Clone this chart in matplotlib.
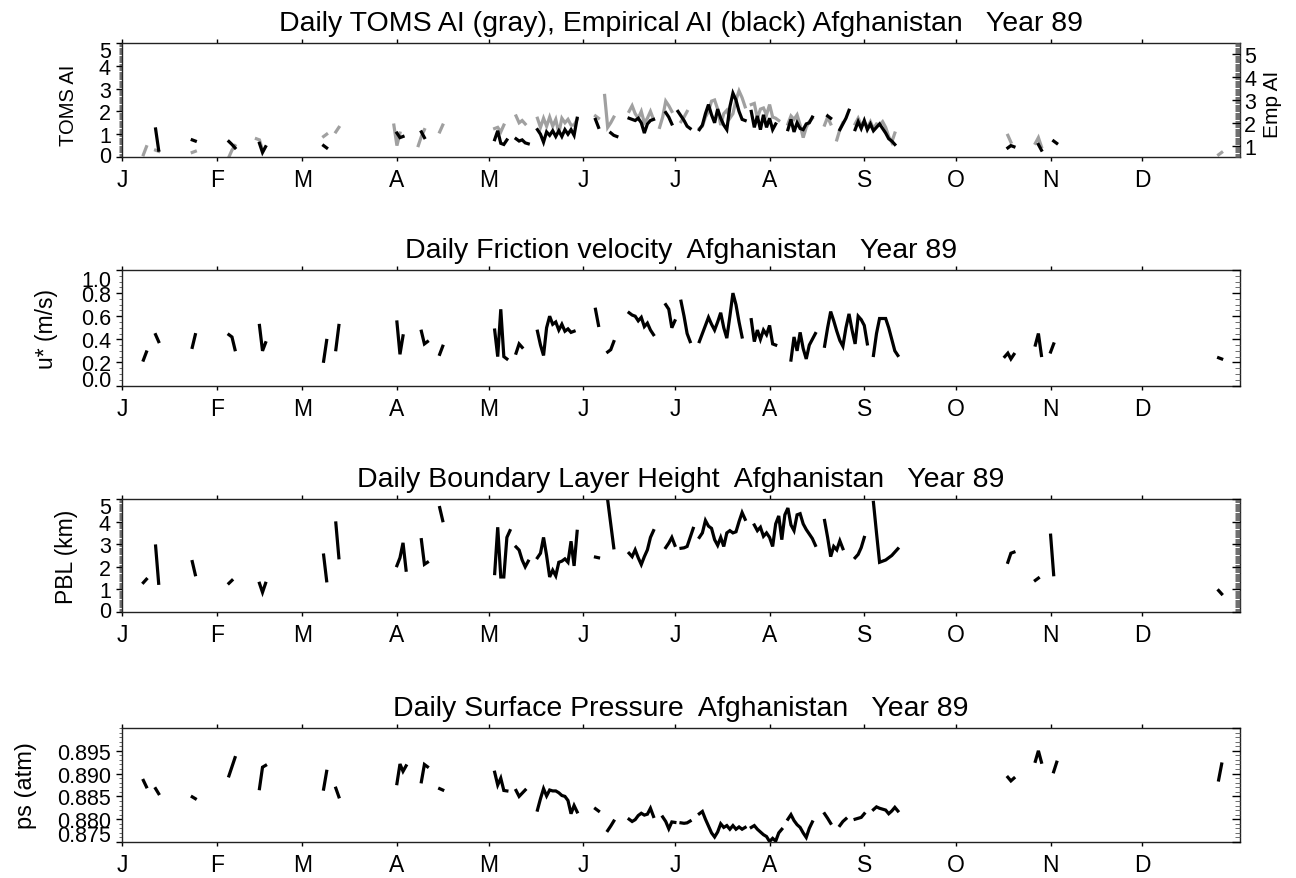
import numpy as np
import matplotlib
matplotlib.use('Agg')
import matplotlib.pyplot as plt
import matplotlib.transforms as mtransforms
from matplotlib.ticker import FixedLocator, MultipleLocator, FormatStrFormatter

plt.rcParams['font.family'] = ['Liberation Sans', 'DejaVu Sans']

NDAYS = 366
month_starts = [0, 31, 59, 90, 120, 151, 181, 212, 243, 273, 304, 334]
month_labels = ['J', 'F', 'M', 'A', 'M', 'J', 'J', 'A', 'S', 'O', 'N', 'D']

# each series is a list of (first day of year, consecutive daily values)
toms_ai = [
    (7, [0.1, 0.45]),
    (11, [0.3, 0.25]),
    (23, [0.2, 0.25]),
    (35, [0.0, 0.3, 0.5]),
    (44, [0.8, 0.75, 0.3]),
    (66, [0.9, 1.0]),
    (70, [1.1, 1.3]),
    (89, [1.4, 0.5, 1.05]),
    (97, [0.5, 0.9, 1.2]),
    (104, [1.1, 1.4]),
    (122, [1.25, 1.3, 1.1, 1.4]),
    (129, [1.8, 1.5, 1.6, 1.45]),
    (136, [1.7, 1.3, 1.7, 1.35, 1.75, 1.35, 1.65, 1.05, 1.7, 1.5, 1.65, 1.4, 1.4, 1.65]),
    (155, [1.8, 1.7]),
    (158, [2.7, 1.3, 1.5, 1.75]),
    (166, [2.0, 2.25, 1.9, 1.7, 2.0, 1.5, 1.7, 2.0, 1.65]),
    (176, [1.3, 1.75, 2.45, 2.25, 2.0]),
    (183, [1.55, 1.75, 2.0]),
    (189, [1.25, 1.35, 1.75, 2.0, 2.45, 2.5, 2.1, 1.4, 1.9, 2.05, 1.7, 1.9, 2.5, 2.9, 2.6, 2.2]),
    (206, [2.3, 2.35, 1.7, 2.1, 2.15, 1.85, 2.3, 1.75, 1.7, 1.6]),
    (218, [1.45, 1.8, 1.65, 1.85, 1.4, 0.85, 1.3, 1.55, 1.7]),
    (230, [1.4, 1.75, 1.45]),
    (234, [0.75, 1.2, 1.5]),
    (240, [1.45, 1.7, 1.4, 1.55, 1.3, 1.55, 1.25, 1.45, 1.4, 1.55, 1.3, 0.9, 0.65, 1.05]),
    (290, [0.95, 0.65]),
    (299, [0.6, 0.85, 0.45]),
    (359, [0.1, 0.2]),
]

emp_ai = [
    (11, [1.73, 0.8]),
    (23, [1.25, 1.2]),
    (35, [1.18, 1.05, 0.9]),
    (45, [1.1, 0.7, 0.95]),
    (66, [1.0, 0.9]),
    (90, [1.55, 1.35, 1.4]),
    (98, [1.6, 1.35]),
    (122, [1.26, 1.65, 1.1, 1.05, 1.25]),
    (129, [1.3, 1.2, 1.25, 1.12, 1.08]),
    (136, [1.7, 1.5, 1.15, 1.6, 1.45, 1.65, 1.4, 1.65, 1.4, 1.7, 1.5, 1.7, 1.45, 2.2]),
    (155, [2.15, 1.8]),
    (160, [1.56, 1.45, 1.4]),
    (166, [2.2, 2.15, 2.1, 2.2, 2.0, 1.55, 1.95, 2.1, 2.15]),
    (178, [2.45, 2.25, 1.95]),
    (182, [2.5, 2.3, 2.1, 1.85, 1.75]),
    (189, [1.7, 1.9, 2.4, 2.8, 2.35, 2.0, 2.6, 2.2, 1.9, 1.7, 2.7, 3.3, 3.0, 2.5, 2.15, 2.1]),
    (206, [2.5, 1.8, 2.3, 1.7, 2.35, 1.8, 2.2, 1.7, 1.95]),
    (218, [1.7, 2.15, 1.6, 2.0, 1.75, 1.7, 1.95, 2.0, 2.25]),
    (231, [2.3, 2.2]),
    (235, [1.7, 1.95, 2.2, 2.55]),
    (240, [1.7, 2.05, 1.75, 2.1, 1.7, 1.95]),
    (246, [1.65, 1.8, 1.95, 1.75, 1.55, 1.3, 1.2, 1.05]),
    (290, [0.9, 1.0, 0.95]),
    (300, [1.05, 0.8]),
    (305, [1.2, 1.1]),
]

ustar = [
    (7, [0.22, 0.29]),
    (11, [0.44, 0.38]),
    (23, [0.33, 0.44]),
    (35, [0.44, 0.42, 0.31]),
    (45, [0.52, 0.30, 0.37]),
    (66, [0.21, 0.39]),
    (70, [0.31, 0.52]),
    (90, [0.55, 0.27, 0.43]),
    (98, [0.47, 0.36, 0.38]),
    (104, [0.27, 0.34]),
    (122, [0.48, 0.25, 0.66, 0.25, 0.23]),
    (129, [0.28, 0.36, 0.33]),
    (136, [0.47, 0.35, 0.26, 0.5, 0.6, 0.53, 0.55, 0.48, 0.53, 0.47, 0.49, 0.46, 0.47]),
    (155, [0.66, 0.52]),
    (159, [0.29, 0.31, 0.38]),
    (166, [0.63, 0.61, 0.6, 0.56, 0.59, 0.51, 0.54, 0.48, 0.44]),
    (178, [0.70, 0.66, 0.5, 0.56]),
    (183, [0.73, 0.6, 0.45, 0.38]),
    (189, [0.38, 0.45, 0.52, 0.59, 0.53, 0.48, 0.55, 0.63, 0.5, 0.41, 0.6, 0.8, 0.7, 0.55, 0.42]),
    (206, [0.57, 0.38, 0.48, 0.4, 0.48, 0.44, 0.52, 0.36, 0.35]),
    (219, [0.22, 0.42, 0.3, 0.46, 0.32, 0.23, 0.35, 0.4, 0.45]),
    (230, [0.34, 0.5, 0.64, 0.56, 0.47, 0.39, 0.34, 0.5, 0.62, 0.48, 0.36, 0.6, 0.57, 0.52, 0.36]),
    (246, [0.26, 0.45, 0.58, 0.58, 0.58, 0.5, 0.4, 0.3, 0.26]),
    (289, [0.25, 0.28, 0.23, 0.27]),
    (299, [0.35, 0.45, 0.26]),
    (304, [0.29, 0.36]),
    (359, [0.24, 0.23]),
]

pbl = [
    (7, [1.3, 1.45]),
    (11, [2.92, 1.27]),
    (23, [2.23, 1.65]),
    (35, [1.27, 1.4]),
    (45, [1.27, 0.87, 1.27]),
    (66, [2.52, 1.38]),
    (70, [3.94, 2.4]),
    (90, [2.05, 2.4, 3.06, 1.85]),
    (98, [3.2, 2.11, 2.2]),
    (104, [4.62, 4.04]),
    (122, [1.7, 3.75, 1.55, 1.55, 3.3, 3.6]),
    (129, [2.88, 2.74, 2.3, 2.0, 2.25]),
    (136, [2.4, 2.6, 3.3, 2.5, 1.55, 1.85, 1.6, 2.2, 2.25, 2.35, 2.2, 3.13, 2.04, 3.57]),
    (155, [2.43, 2.4]),
    (159, [4.95, 3.9, 2.84]),
    (166, [2.6, 2.45, 2.75, 2.4, 2.1, 2.45, 2.75, 3.3, 3.6]),
    (178, [2.85, 3.05, 3.3, 2.95]),
    (183, [2.82, 2.84, 2.9, 3.3, 3.7]),
    (189, [3.3, 3.5, 4.05, 3.8, 3.7, 3.2, 2.95, 3.3, 2.9, 3.5, 3.6, 3.5, 3.55, 4.0, 4.4, 4.1]),
    (207, [3.85, 3.6, 3.75, 3.35, 3.5, 3.3, 2.9, 3.9, 4.25, 3.2, 4.3, 4.6, 3.85, 3.6, 4.3,
           4.35, 3.9, 3.65, 3.45, 3.25, 2.95]),
    (230, [4.05, 3.3, 2.45, 2.9, 2.75, 3.15, 2.8]),
    (240, [2.4, 2.55, 2.85, 3.3]),
    (246, [4.85, 3.5, 2.2, 2.25, 2.3, 2.4, 2.5, 2.65, 2.8]),
    (290, [2.2, 2.6, 2.65]),
    (299, [1.4, 1.5]),
    (304, [3.4, 1.65]),
    (359, [0.95, 0.8]),
]

ps = [
    (7, [0.8885, 0.8871]),
    (11, [0.8867, 0.8856]),
    (23, [0.8849, 0.8845]),
    (35, [0.8895, 0.8915, 0.8935]),
    (45, [0.8867, 0.8914, 0.8918]),
    (66, [0.8866, 0.8905]),
    (70, [0.8868, 0.8849]),
    (90, [0.8878, 0.8921, 0.8905, 0.8917]),
    (98, [0.8882, 0.8920, 0.8915]),
    (104, [0.8867, 0.8864]),
    (122, [0.8903, 0.8875, 0.8890, 0.8863, 0.8862]),
    (129, [0.8863, 0.8850, 0.8857, 0.8864]),
    (136, [0.8820, 0.8845, 0.8867, 0.8851, 0.8864, 0.8862, 0.8862, 0.8858, 0.8852, 0.8850,
           0.8841, 0.8812, 0.8830, 0.8816]),
    (155, [0.8823, 0.8818]),
    (159, [0.8775, 0.8785, 0.8796]),
    (166, [0.8800, 0.8795, 0.8799, 0.8808, 0.8813, 0.8809, 0.8811, 0.8824, 0.8806]),
    (177, [0.8805, 0.8795, 0.8779, 0.8794, 0.8793]),
    (183, [0.8792, 0.8791, 0.8792, 0.8796]),
    (189, [0.8812, 0.8817, 0.8800, 0.8785, 0.8770, 0.8761, 0.8772, 0.8790, 0.8782, 0.8786,
           0.8778, 0.8786, 0.8778, 0.8783, 0.8778, 0.8782]),
    (206, [0.8782, 0.8786, 0.8778, 0.8772, 0.8766, 0.8762, 0.8751, 0.8758, 0.8752, 0.8770, 0.8778]),
    (218, [0.8800, 0.8810, 0.8797, 0.8788, 0.8782, 0.8770, 0.8760, 0.8780, 0.8794]),
    (230, [0.8812, 0.8802, 0.8791]),
    (235, [0.8786, 0.8795, 0.8801]),
    (240, [0.8800, 0.8802, 0.8804, 0.8812]),
    (246, [0.8821, 0.8827, 0.8824, 0.8822, 0.8820, 0.8812, 0.8818, 0.8826, 0.8818]),
    (290, [0.8892, 0.8884, 0.8890]),
    (299, [0.8927, 0.8950, 0.8925]),
    (305, [0.8904, 0.8925]),
    (359, [0.8886, 0.8921]),
]


def daily(segments):
    y = np.full(NDAYS, np.nan)
    for start, vals in segments:
        y[start:start + len(vals)] = vals
    return y


days = np.arange(NDAYS)
W, H = 1296, 879
LEFT, RIGHT = 122, 1240
LW = 2.3
GRAY = '#a0a0a0'


def make_axes(fig, top, bottom):
    rect = [LEFT / W, 1 - bottom / H, (RIGHT - LEFT) / W, (bottom - top) / H]
    ax = fig.add_axes(rect)
    ax.set_xlim(0, 366)
    ax.xaxis.set_major_locator(FixedLocator(month_starts))
    ax.set_xticklabels(month_labels)
    ax.tick_params(axis='x', which='major', direction='out', length=3, width=1,
                   top=True, bottom=True, labelsize=16.5, pad=5)
    ax.tick_params(axis='x', which='minor', bottom=False, top=False)
    ax.tick_params(axis='y', which='major', direction='out', length=4, width=1,
                   labelsize=15.5, pad=4)
    ax.tick_params(axis='y', which='minor', direction='out', length=2.5, width=0.6,
                   color='#555555')
    for s in ax.spines.values():
        s.set_linewidth(1.0)
        s.set_color('#222222')
    return ax


def right_axis(ax, ylim, major, minor, labels=False):
    ax2 = ax.twinx()
    ax2.set_ylim(*ylim)
    ax2.yaxis.set_major_locator(FixedLocator(major))
    ax2.yaxis.set_minor_locator(MultipleLocator(minor))
    ax2.tick_params(axis='y', which='major', direction='in', length=6, width=1,
                    labelright=labels, labelsize=15.5, pad=3)
    ax2.tick_params(axis='y', which='minor', direction='in', length=3.5, width=0.6,
                    color='#555555')
    for s in ax2.spines.values():
        s.set_visible(False)
    return ax2


def shift_label(fig, tick, dy_px):
    lab = tick.label1
    off = mtransforms.ScaledTranslation(0, dy_px / fig.dpi, fig.dpi_scale_trans)
    lab.set_transform(lab.get_transform() + off)


def left_axis(fig, ax, ylim, major, minor, fmt, bottom_up, top_down):
    ax.set_ylim(*ylim)
    ax.yaxis.set_major_locator(FixedLocator(major))
    ax.yaxis.set_minor_locator(MultipleLocator(minor))
    ax.yaxis.set_major_formatter(FormatStrFormatter(fmt))
    ticks = ax.yaxis.get_major_ticks()
    # end labels are pulled inside the axis range
    shift_label(fig, ticks[0], bottom_up)
    if major[-1] >= ylim[1] - 1e-9:
        shift_label(fig, ticks[-1], -top_down)


def title(ax, text):
    ax.set_title(text, fontsize=20.5, y=1.0, pad=9)


def ylabel(ax, text, xpix, size=16, ypos=0.5):
    ax.set_ylabel(text, fontsize=size, va='center')
    ax.yaxis.set_label_coords((xpix - LEFT) / (RIGHT - LEFT), ypos)


fig = plt.figure(figsize=(W / 100, H / 100), dpi=100)

# aerosol index
ax1 = make_axes(fig, 44, 158)
left_axis(fig, ax1, (0, 5), [0, 1, 2, 3, 4, 5], 0.05, '%d', 3, 6)
ax1.plot(days, daily(toms_ai), color=GRAY, lw=LW, solid_joinstyle='miter')
ax1r = right_axis(ax1, (0.5, 5.5), [1, 2, 3, 4, 5], 0.05, labels=True)
ax1r.plot(days, daily(emp_ai), color='black', lw=LW, solid_joinstyle='miter')
ax1r.set_ylabel('Emp AI', fontsize=15, va='center', rotation=90)
ax1r.yaxis.set_label_coords((1273 - LEFT) / (RIGHT - LEFT), 0.47)
title(ax1, 'Daily TOMS AI (gray), Empirical AI (black) Afghanistan   Year 89')
ylabel(ax1, 'TOMS AI', 68, 14.5, 0.46)

# friction velocity
ax2 = make_axes(fig, 271, 386.5)
left_axis(fig, ax2, (0, 1), [0, 0.2, 0.4, 0.6, 0.8, 1.0], 0.05, '%.1f', 7, 8)
ax2.plot(days, daily(ustar), color='black', lw=LW, solid_joinstyle='miter')
right_axis(ax2, (0, 1), [0, 0.2, 0.4, 0.6, 0.8, 1.0], 0.05)
title(ax2, 'Daily Friction velocity  Afghanistan   Year 89')
ylabel(ax2, 'u* (m/s)', 47, 16.5)

# boundary layer height
ax3 = make_axes(fig, 500, 613)
left_axis(fig, ax3, (0, 5), [0, 1, 2, 3, 4, 5], 0.05, '%d', 3, 6)
ax3.plot(days, daily(pbl), color='black', lw=LW, solid_joinstyle='miter')
right_axis(ax3, (0, 5), [0, 1, 2, 3, 4, 5], 0.05)
title(ax3, 'Daily Boundary Layer Height  Afghanistan   Year 89')
ylabel(ax3, 'PBL (km)', 66, 16.5)

# surface pressure
ax4 = make_axes(fig, 729, 843)
left_axis(fig, ax4, (0.875, 0.900), [0.875, 0.880, 0.885, 0.890, 0.895], 0.001, '%.3f', 9, 0)
ax4.plot(days, daily(ps), color='black', lw=LW, solid_joinstyle='miter')
right_axis(ax4, (0.875, 0.900), [0.875, 0.880, 0.885, 0.890, 0.895, 0.900], 0.001)
title(ax4, 'Daily Surface Pressure  Afghanistan   Year 89')
ylabel(ax4, 'ps (atm)', 26, 17)

fig.savefig('out.png', dpi=100)
